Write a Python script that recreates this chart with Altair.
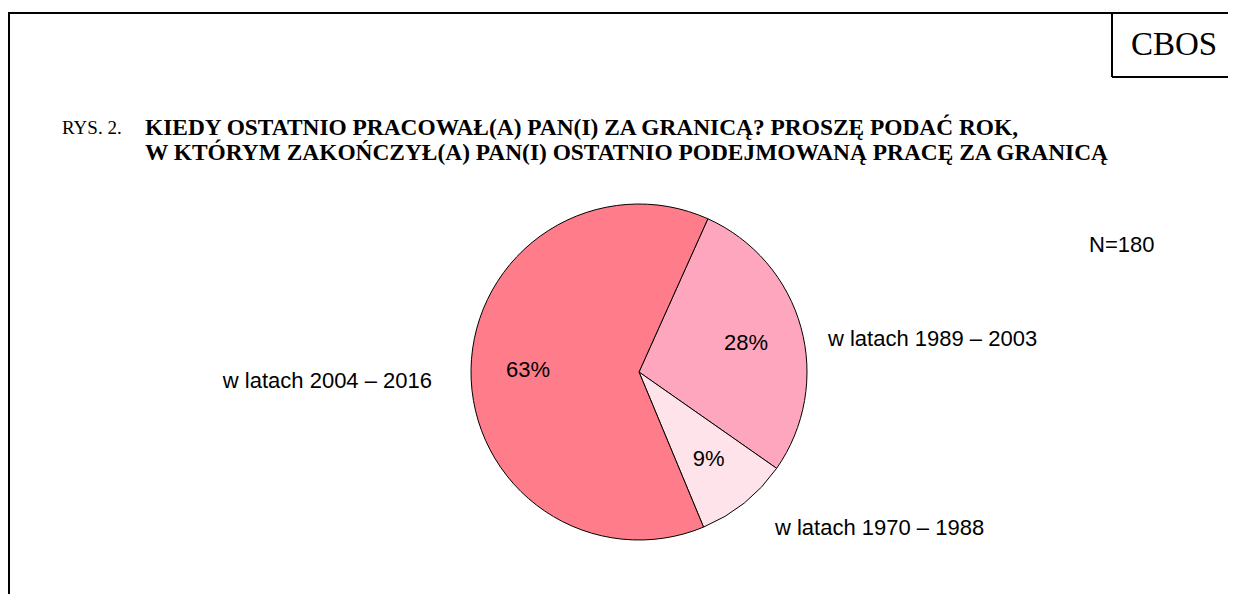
import math
import altair as alt
import pandas as pd

# ---- data ----
categories = ["w latach 1989 – 2003", "w latach 1970 – 1988", "w latach 2004 – 2016"]
values = [28, 9, 63]
pct_labels = ["28%", "9%", "63%"]
colors = ["#FFA6BF", "#FFE3EA", "#FF7C8A"]

fig_label = ["RYS. 2."]
title_lines = [
    "KIEDY OSTATNIO PRACOWAŁ(A) PAN(I) ZA GRANICĄ? PROSZĘ PODAĆ ROK,",
    "W KTÓRYM ZAKOŃCZYŁ(A) PAN(I) OSTATNIO PODEJMOWANĄ PRACĘ ZA GRANICĄ",
]
source_label = ["CBOS"]
n_label = ["N=180"]

df = pd.DataFrame({"cat": categories, "value": values, "pct": pct_labels,
                   "idx": list(range(len(values)))})

W, H = 1220, 586
CX, CY, R = 631, 364, 168
START = math.radians(24.2)
theta_scale = alt.Scale(domain=[0, 100], range=[START, START + 2 * math.pi])
SERIF = "Liberation Serif"
SANS = "Liberation Sans"

base = alt.Chart(df).encode(
    theta=alt.Theta("value:Q", stack=True, scale=theta_scale),
    order=alt.Order("idx:Q"),
)

pie = base.mark_arc(radius=R, stroke="black", strokeWidth=1, x=CX, y=CY).encode(
    color=alt.Color("cat:N", scale=alt.Scale(domain=categories, range=colors), legend=None)
)

inner = base.mark_text(radius=111, x=CX, y=CY, font=SANS, fontSize=22,
                       align="center", baseline="middle", color="black").encode(text="pct:N")


def outer(cat, radius, align, dy):
    return base.mark_text(radius=radius, x=CX, y=CY, font=SANS, fontSize=22,
                          align=align, baseline="middle", dy=dy, color="black").encode(
        text=alt.condition(alt.datum.cat == cat, "cat:N", alt.value(""))
    )


out1 = outer(categories[0], 196, "left", 19)
out2 = outer(categories[1], 217, "left", -13)
out3 = outer(categories[2], 207, "right", 12)

one = pd.DataFrame({"k": [0]})


def rule(x, x2, y, y2):
    return alt.Chart(one).mark_rule(color="black", strokeWidth=2).encode(
        x=alt.value(x), x2=alt.value(x2), y=alt.value(y), y2=alt.value(y2))


frame = [
    rule(1, 1, 5, H),
    rule(0, W, 5, 5),
    rule(1104, 1104, 5, 69),
    rule(1104, W, 69, 69),
]


def text(lines, x, y, font, size, weight="normal", align="left", step=0):
    return alt.layer(*[
        alt.Chart(pd.DataFrame({"t": [ln]})).mark_text(
            font=font, fontSize=size, fontWeight=weight, align=align,
            baseline="middle", color="black").encode(
            text="t:N", x=alt.value(x), y=alt.value(y + j * step))
        for j, ln in enumerate(lines)
    ])


t_fig = text(fig_label, 54, 120, SERIF, 19)
t_title = text(title_lines, 137, 120, SERIF, 23.4, weight="bold", step=25)
t_src = text(source_label, 1166, 37, SERIF, 33, align="center")
t_n = text(n_label, 1081, 237, SANS, 22)

chart = alt.layer(
    pie, inner, out1, out2, out3, *frame, t_fig, t_title, t_src, t_n
).properties(
    width=W, height=H, autosize=alt.AutoSizeParams(type="none"), padding=0,
    background="white",
).configure_view(stroke=None)

chart.save("out.html", embed_options={"renderer": "svg", "actions": False})
